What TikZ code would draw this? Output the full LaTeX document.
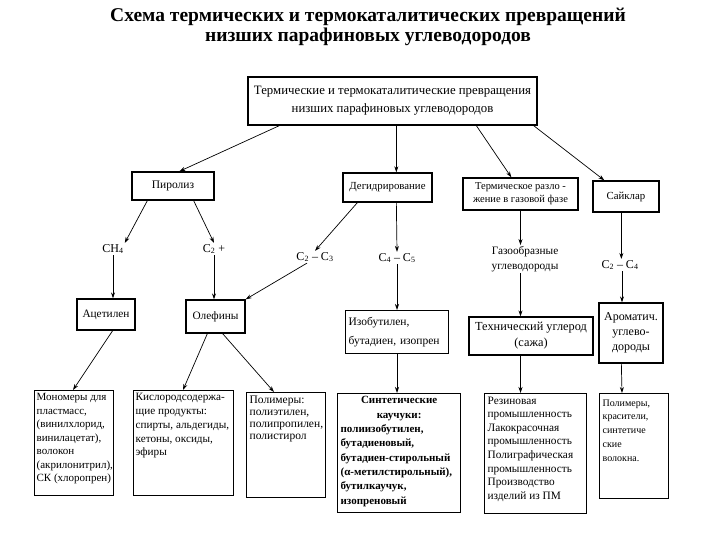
\documentclass[tikz,border=0pt]{standalone}
\usepackage{fontspec}
\setmainfont{Liberation Serif}
\usetikzlibrary{arrows.meta,calc}
\tikzset{
  box/.style={draw, line width=1.3pt, inner sep=3pt, font=\fontsize{11.3}{13.6}\selectfont},
  cbox/.style={box, align=center, anchor=center},
  lbl/.style={inner sep=1pt, font=\fontsize{12}{14}\selectfont, align=center},
  arr/.style={-{Stealth[length=6pt,width=4pt]}, line width=0.7pt},
}
\begin{document}
\begin{tikzpicture}[x=1pt,y=-1pt]
\useasboundingbox (0,0) rectangle (720,540);
% title
\node[inner sep=0pt, align=center, font=\fontsize{19.5}{19.5}\selectfont\bfseries] (title) at (368,27)
  {Схема термических и термокаталитических превращений\\низших парафиновых углеводородов};
% level 0
\node[cbox, minimum width=289pt, minimum height=48pt, font=\fontsize{12.8}{18}\selectfont] (top) at (392.5,101)
  {Термические и термокаталитические превращения\\низших парафиновых углеводородов};
% level 1
\node[cbox, minimum width=82pt, minimum height=28pt, font=\fontsize{11.5}{14}\selectfont] (pyro) at (173,186) {Пиролиз};
\node[cbox, minimum width=89pt, minimum height=29pt, font=\fontsize{10.8}{14}\selectfont] (dehyd) at (387.5,187.5) {Дегидрирование};
\node[cbox, minimum width=115pt, minimum height=32pt, font=\fontsize{10.5}{13}\selectfont] (therm) at (520.5,194) {Термическое разло -\\жение в газовой фазе};
\node[cbox, minimum width=66pt, minimum height=31pt, font=\fontsize{10.8}{14}\selectfont] (cycl) at (626,196.5) {Сайклар};
% products
\node[lbl] (ch4) at (113,249) {CH\textsubscript{4}};
\node[lbl] (c2p) at (214,249) {C\textsubscript{2} +};
\node[lbl] (c23) at (315,257) {C\textsubscript{2} – C\textsubscript{3}};
\node[lbl] (c45) at (397,258) {C\textsubscript{4} – C\textsubscript{5}};
\node[lbl, font=\fontsize{11.3}{15}\selectfont] (gas) at (525,259) {Газообразные\\углеводороды};
\node[lbl] (c24) at (620,265) {C\textsubscript{2} – C\textsubscript{4}};
% level 2
\node[cbox, minimum width=58pt, minimum height=31pt] (acet) at (106,314.5) {Ацетилен};
\node[cbox, minimum width=59pt, minimum height=33pt] (olef) at (215.5,316.5) {Олефины};
\node[box, anchor=north west, align=left, text width=97pt, minimum height=43pt, font=\fontsize{11.5}{19}\selectfont] (isob) at (345,310) {Изобутилен,\\бутадиен, изопрен};
\node[cbox, minimum width=124pt, minimum height=38pt, font=\fontsize{12.3}{16}\selectfont] (tech) at (531,336) {Технический углерод\\(сажа)};
\node[cbox, minimum width=64pt, minimum height=60pt, font=\fontsize{12}{15}\selectfont] (arom) at (631,333) {Ароматич.\\углево-\\дороды};
% level 3
\node[box, anchor=north west, inner xsep=2pt] (mono) at (34,390)
  {\parbox[c][99pt][t]{75pt}{\fontsize{11}{13.5}\selectfont\raggedright Мономеры для\\пластмасс,\\(винилхлорид,\\винилацетат),\\волокон\\(акрилонитрил),\\СК (хлоропрен)}};
\node[box, anchor=north west, inner xsep=2pt] (oxy) at (133,390)
  {\parbox[c][99pt][t]{96pt}{\fontsize{11.2}{13.7}\selectfont\raggedright Кислородсодержа-\\щие продукты:\\спирты, альдегиды,\\кетоны, оксиды,\\эфиры}};
\node[box, anchor=north west] (poly) at (246,392)
  {\parbox[c][99pt][t]{73pt}{\fontsize{11.5}{12.2}\selectfont\raggedright Полимеры:\\полиэтилен,\\полипропилен,\\полистирол}};
\node[box, anchor=north west] (rub) at (337,393)
  {\parbox[c][113pt][t]{117pt}{\fontsize{11}{14.3}\selectfont\bfseries\centering Синтетические\\каучуки:\par\raggedright полиизобутилен,\\бутадиеновый,\\бутадиен-стирольный\\(α-метилстирольный),\\бутилкаучук,\\изопреновый}};
\node[box, anchor=north west] (ind) at (484,393)
  {\parbox[c][114pt][t]{96pt}{\fontsize{11.3}{13.6}\selectfont\raggedright Резиновая\\промышленность\\Лакокрасочная\\промышленность\\Полиграфическая\\промышленность\\Производство\\изделий из ПМ}};
\node[box, anchor=north west, inner ysep=6pt] (dye) at (599,393)
  {\parbox[c][93pt][t]{63pt}{\fontsize{10}{13.7}\selectfont\raggedright Полимеры,\\красители,\\синтетиче\\ские\\волокна.}};
% connectors
\draw[arr] ([xshift=32pt]top.south west) -- ([xshift=48pt]pyro.north west);
\draw[arr] ([xshift=149pt]top.south west) -- ([xshift=54pt]dehyd.north west);
\draw[arr] ([xshift=229pt]top.south west) -- ([xshift=49pt]therm.north west);
\draw[arr] ([xshift=-4pt]top.south east) -- ([xshift=12pt]cycl.north west);
\draw[arr] ([xshift=16pt]pyro.south west) -- (ch4.north east);
\draw[arr] ([xshift=-21pt]pyro.south east) -- (c2p.north);
\draw[arr] ([xshift=15pt]dehyd.south west) -- (c23.north);
\draw[arr] ([xshift=54pt]dehyd.south west) -- (c45.north);
\draw[arr] (therm.south) -- (therm.south |- gas.north);
\draw[arr] ([xshift=29pt]cycl.south west) -- ([xshift=29pt]cycl.south west |- c24.north);
\draw[arr] (ch4.south) -- (ch4.south |- acet.north);
\draw[arr] (c2p.south) -- (c2p.south |- olef.north);
\draw[arr] ([xshift=-8pt]c23.south) -- (olef.north east);
\draw[arr] (c45.south) -- (c45.south |- isob.north);
\draw[arr] (therm.south |- gas.south) -- (therm.south |- tech.north);
\draw[arr] ([xshift=2pt]c24.south) -- ([xshift=2pt]c24.south |- arom.north);
\draw[arr] ([xshift=-23pt]acet.south east) -- ([xshift=39pt]mono.north west);
\draw[arr] ([xshift=22pt]olef.south west) -- ([xshift=50pt]oxy.north west);
\draw[arr] ([xshift=-23pt]olef.south east) -- ([xshift=28pt]poly.north west);
\draw[arr] ([xshift=52pt]isob.south west) -- ([xshift=60pt]rub.north west);
\draw[arr] (therm.south |- tech.south) -- (therm.south |- ind.north);
\draw[arr] ([xshift=23pt]arom.south west) -- ([xshift=23pt]dye.north west);
\end{tikzpicture}
\end{document}
